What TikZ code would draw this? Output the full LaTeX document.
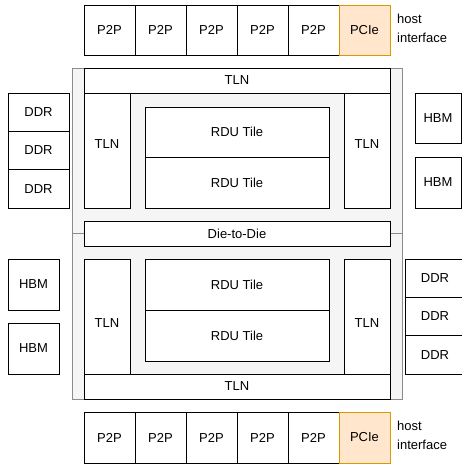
\documentclass[tikz,border=0pt]{standalone}
\usepackage{fontspec}
\setmainfont{Liberation Sans}
\usepackage{tikz}
\usetikzlibrary{positioning}
\usepackage{xcolor}
\definecolor{pciefill}{HTML}{FFE6CC}
\definecolor{pcieline}{HTML}{D79B00}
\definecolor{diefill}{HTML}{F5F5F5}
\definecolor{dieline}{HTML}{8C8C8C}

\begin{document}
\begin{tikzpicture}[
        x=1pt, y=-1pt,
        node distance=0pt,
        every node/.style={font=\fontsize{13}{16}\selectfont},
        blk/.style={draw, fill=white, line width=0.9pt, inner sep=0pt, outer sep=0pt, anchor=north west, align=center},
        port/.style={blk, minimum width=51pt, minimum height=50pt},
        pcie/.style={port, fill=pciefill, draw=pcieline},
        die/.style={draw=dieline, fill=diefill, line width=0.9pt, inner sep=0pt, outer sep=0pt, anchor=north west},
        note/.style={anchor=north west, align=left, inner sep=0pt, font=\fontsize{13}{19}\selectfont}
    ]
    \useasboundingbox (0,0) rectangle (461,466);
    % two dies
    \node[die, minimum width=330pt, minimum height=165pt] (dieA) at (72,68) {};
    \node[die, minimum width=330pt, minimum height=166pt] (dieB) at (72,233) {};
    % top host side
    \node[port] (pa1) at (84,5) {P2P};
    \node[port, right=of pa1] (pa2) {P2P};
    \node[port, right=of pa2] (pa3) {P2P};
    \node[port, right=of pa3] (pa4) {P2P};
    \node[port, right=of pa4] (pa5) {P2P};
    \node[pcie, right=of pa5] (pcieA) {PCIe};
    \node[note] (hostA) at (397,14) {host\\interface};
    % upper die
    \node[blk, minimum width=306pt, minimum height=25pt] (tlnA) at (84,68) {TLN};
    \node[blk, minimum width=46pt, minimum height=115pt, label={[yshift=6pt]center:TLN}] (tlnAl) at (84,93) {};
    \node[blk, minimum width=46pt, minimum height=115pt, label={[yshift=6pt]center:TLN}] (tlnAr) at (344,93) {};
    \node[blk, minimum width=184pt, minimum height=50pt] (rduA1) at (145,107) {RDU Tile};
    \node[blk, minimum width=184pt, minimum height=51pt] (rduA2) at (145,157) {RDU Tile};
    \node[blk, minimum width=306pt, minimum height=25pt] (d2d) at (84,221) {Die-to-Die};
    % lower die
    \node[blk, minimum width=46pt, minimum height=115pt, label={[yshift=-7pt]center:TLN}] (tlnBl) at (84,259) {};
    \node[blk, minimum width=46pt, minimum height=115pt, label={[yshift=-7pt]center:TLN}] (tlnBr) at (344,259) {};
    \node[blk, minimum width=184pt, minimum height=51pt] (rduB1) at (145,259) {RDU Tile};
    \node[blk, minimum width=184pt, minimum height=51pt] (rduB2) at (145,310) {RDU Tile};
    \node[blk, minimum width=306pt, minimum height=25pt] (tlnB) at (84,374) {TLN};
    % memories
    \node[blk, minimum width=61pt, minimum height=38.33pt] (ddrA1) at (8,93) {DDR};
    \node[blk, minimum width=61pt, minimum height=38.33pt, below=of ddrA1] (ddrA2) {DDR};
    \node[blk, minimum width=61pt, minimum height=38.33pt, below=of ddrA2] (ddrA3) {DDR};
    \node[blk, minimum width=46pt, minimum height=50pt] (hbmA1) at (415,93) {HBM};
    \node[blk, minimum width=46pt, minimum height=51pt] (hbmA2) at (415,157) {HBM};
    \node[blk, minimum width=51pt, minimum height=51pt] (hbmB1) at (8,259) {HBM};
    \node[blk, minimum width=51pt, minimum height=51pt] (hbmB2) at (8,323) {HBM};
    \node[blk, minimum width=60pt, minimum height=38.33pt] (ddrB1) at (405,259) {DDR};
    \node[blk, minimum width=60pt, minimum height=38.33pt, below=of ddrB1] (ddrB2) {DDR};
    \node[blk, minimum width=60pt, minimum height=38.33pt, below=of ddrB2] (ddrB3) {DDR};
    % bottom host side
    \node[port, minimum height=51pt] (pb1) at (84,412) {P2P};
    \node[port, minimum height=51pt, right=of pb1] (pb2) {P2P};
    \node[port, minimum height=51pt, right=of pb2] (pb3) {P2P};
    \node[port, minimum height=51pt, right=of pb3] (pb4) {P2P};
    \node[port, minimum height=51pt, right=of pb4] (pb5) {P2P};
    \node[pcie, minimum height=51pt, right=of pb5] (pcieB) {PCIe};
    \node[note] (hostB) at (397,421) {host\\interface};
\end{tikzpicture}
\end{document}
